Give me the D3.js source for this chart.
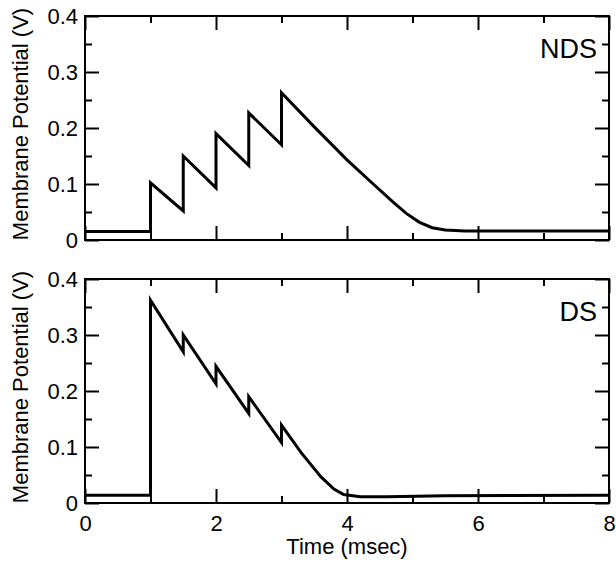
<!DOCTYPE html>
<html>
<head>
<meta charset="utf-8">
<script src="https://cdn.jsdelivr.net/npm/d3@7"></script>
<style>
  body { margin: 0; background: #fff; }
  svg { display: block; font-family: "Liberation Sans", Arial, sans-serif; }
</style>
</head>
<body>
<div id="chart"></div>
<script>
// time (msec), membrane potential (V)
const ndsTime = [0, 1, 1, 1.5, 1.5, 2, 2, 2.5, 2.5, 3, 3, 3.5, 4, 4.4, 4.7, 4.9, 5.1, 5.3, 5.5, 5.8, 8];
const ndsVolt = [0.015, 0.015, 0.102, 0.052, 0.150, 0.093, 0.190, 0.133, 0.227, 0.170, 0.263, 0.202, 0.143, 0.100, 0.068, 0.048, 0.032, 0.022, 0.018, 0.016, 0.016];

const dsTime = [0, 1, 1, 1.5, 1.5, 2, 2, 2.5, 2.5, 3, 3, 3.3, 3.6, 3.8, 3.95, 4.2, 4.6, 5.5, 8];
const dsVolt = [0.014, 0.014, 0.362, 0.270, 0.300, 0.213, 0.244, 0.160, 0.190, 0.108, 0.139, 0.090, 0.047, 0.025, 0.015, 0.011, 0.011, 0.013, 0.014];

const xMajor = [0, 2, 4, 6, 8];
const xMinor = [1, 3, 5, 7];
const yMajor = [0, 0.1, 0.2, 0.3, 0.4];
const yMinor = [0.05, 0.15, 0.25, 0.35];

const width = 616, height = 563;
const left = 85, right = 609;
const panelH = 224;
const panels = [
    { name: "NDS", time: ndsTime, volt: ndsVolt, top: 16, xLabels: false },
    { name: "DS", time: dsTime, volt: dsVolt, top: 279, xLabels: true }
];

const svg = d3.select("#chart").append("svg")
    .attr("width", width)
    .attr("height", height);

const x = d3.scaleLinear().domain([0, 8]).range([left, right]);

const majorLen = 14, minorLen = 7;
const fontSize = 22;

function styleAxis(g) {
    g.select(".domain").remove();
    g.selectAll(".tick line").attr("stroke", "#000").attr("stroke-width", 2);
    g.selectAll(".tick text")
        .attr("fill", "#000")
        .style("font-size", fontSize + "px")
        .style("font-family", "'Liberation Sans', Arial, sans-serif");
}

panels.forEach(p => {
    const y = d3.scaleLinear().domain([0, 0.4]).range([p.top + panelH, p.top]);
    const g = svg.append("g");
    const bottom = p.top + panelH;

    // bottom axis
    g.append("g")
        .attr("transform", `translate(0,${bottom})`)
        .call(d3.axisBottom(x).tickValues(xMajor).tickSize(-majorLen).tickPadding(12)
            .tickFormat(p.xLabels ? d3.format("d") : ""))
        .call(styleAxis);
    g.append("g")
        .attr("transform", `translate(0,${bottom})`)
        .call(d3.axisBottom(x).tickValues(xMinor).tickSize(-minorLen).tickFormat(""))
        .call(styleAxis);

    // top axis
    g.append("g")
        .attr("transform", `translate(0,${p.top})`)
        .call(d3.axisTop(x).tickValues(xMajor).tickSize(-majorLen).tickFormat(""))
        .call(styleAxis);
    g.append("g")
        .attr("transform", `translate(0,${p.top})`)
        .call(d3.axisTop(x).tickValues(xMinor).tickSize(-minorLen).tickFormat(""))
        .call(styleAxis);

    // left axis
    g.append("g")
        .attr("transform", `translate(${left},0)`)
        .call(d3.axisLeft(y).tickValues(yMajor).tickSize(-majorLen).tickPadding(7)
            .tickFormat(d => d === 0 ? "0" : d3.format(".1f")(d)))
        .call(styleAxis);
    g.append("g")
        .attr("transform", `translate(${left},0)`)
        .call(d3.axisLeft(y).tickValues(yMinor).tickSize(-minorLen).tickFormat(""))
        .call(styleAxis);

    // right axis
    g.append("g")
        .attr("transform", `translate(${right},0)`)
        .call(d3.axisRight(y).tickValues(yMajor).tickSize(-majorLen).tickFormat(""))
        .call(styleAxis);
    g.append("g")
        .attr("transform", `translate(${right},0)`)
        .call(d3.axisRight(y).tickValues(yMinor).tickSize(-minorLen).tickFormat(""))
        .call(styleAxis);

    // frame
    g.append("rect")
        .attr("x", left)
        .attr("y", p.top)
        .attr("width", right - left)
        .attr("height", panelH)
        .attr("fill", "none")
        .attr("stroke", "#000")
        .attr("stroke-width", 2);

    const line = d3.line()
        .x((d, i) => x(p.time[i]))
        .y(d => y(d));

    g.append("path")
        .datum(p.volt)
        .attr("d", line)
        .attr("fill", "none")
        .attr("stroke", "#000")
        .attr("stroke-width", 3)
        .attr("stroke-linejoin", "miter");

    g.append("text")
        .attr("x", 597)
        .attr("y", p.top + 42)
        .attr("text-anchor", "end")
        .style("font-size", "27px")
        .text(p.name);

    g.append("text")
        .attr("transform", `translate(28,${p.top + panelH / 2 - 4}) rotate(-90)`)
        .attr("text-anchor", "middle")
        .style("font-size", fontSize + "px")
        .text("Membrane Potential (V)");
});

svg.append("text")
    .attr("x", (left + right) / 2)
    .attr("y", 554)
    .attr("text-anchor", "middle")
    .style("font-size", fontSize + "px")
    .text("Time (msec)");
</script>
</body>
</html>
